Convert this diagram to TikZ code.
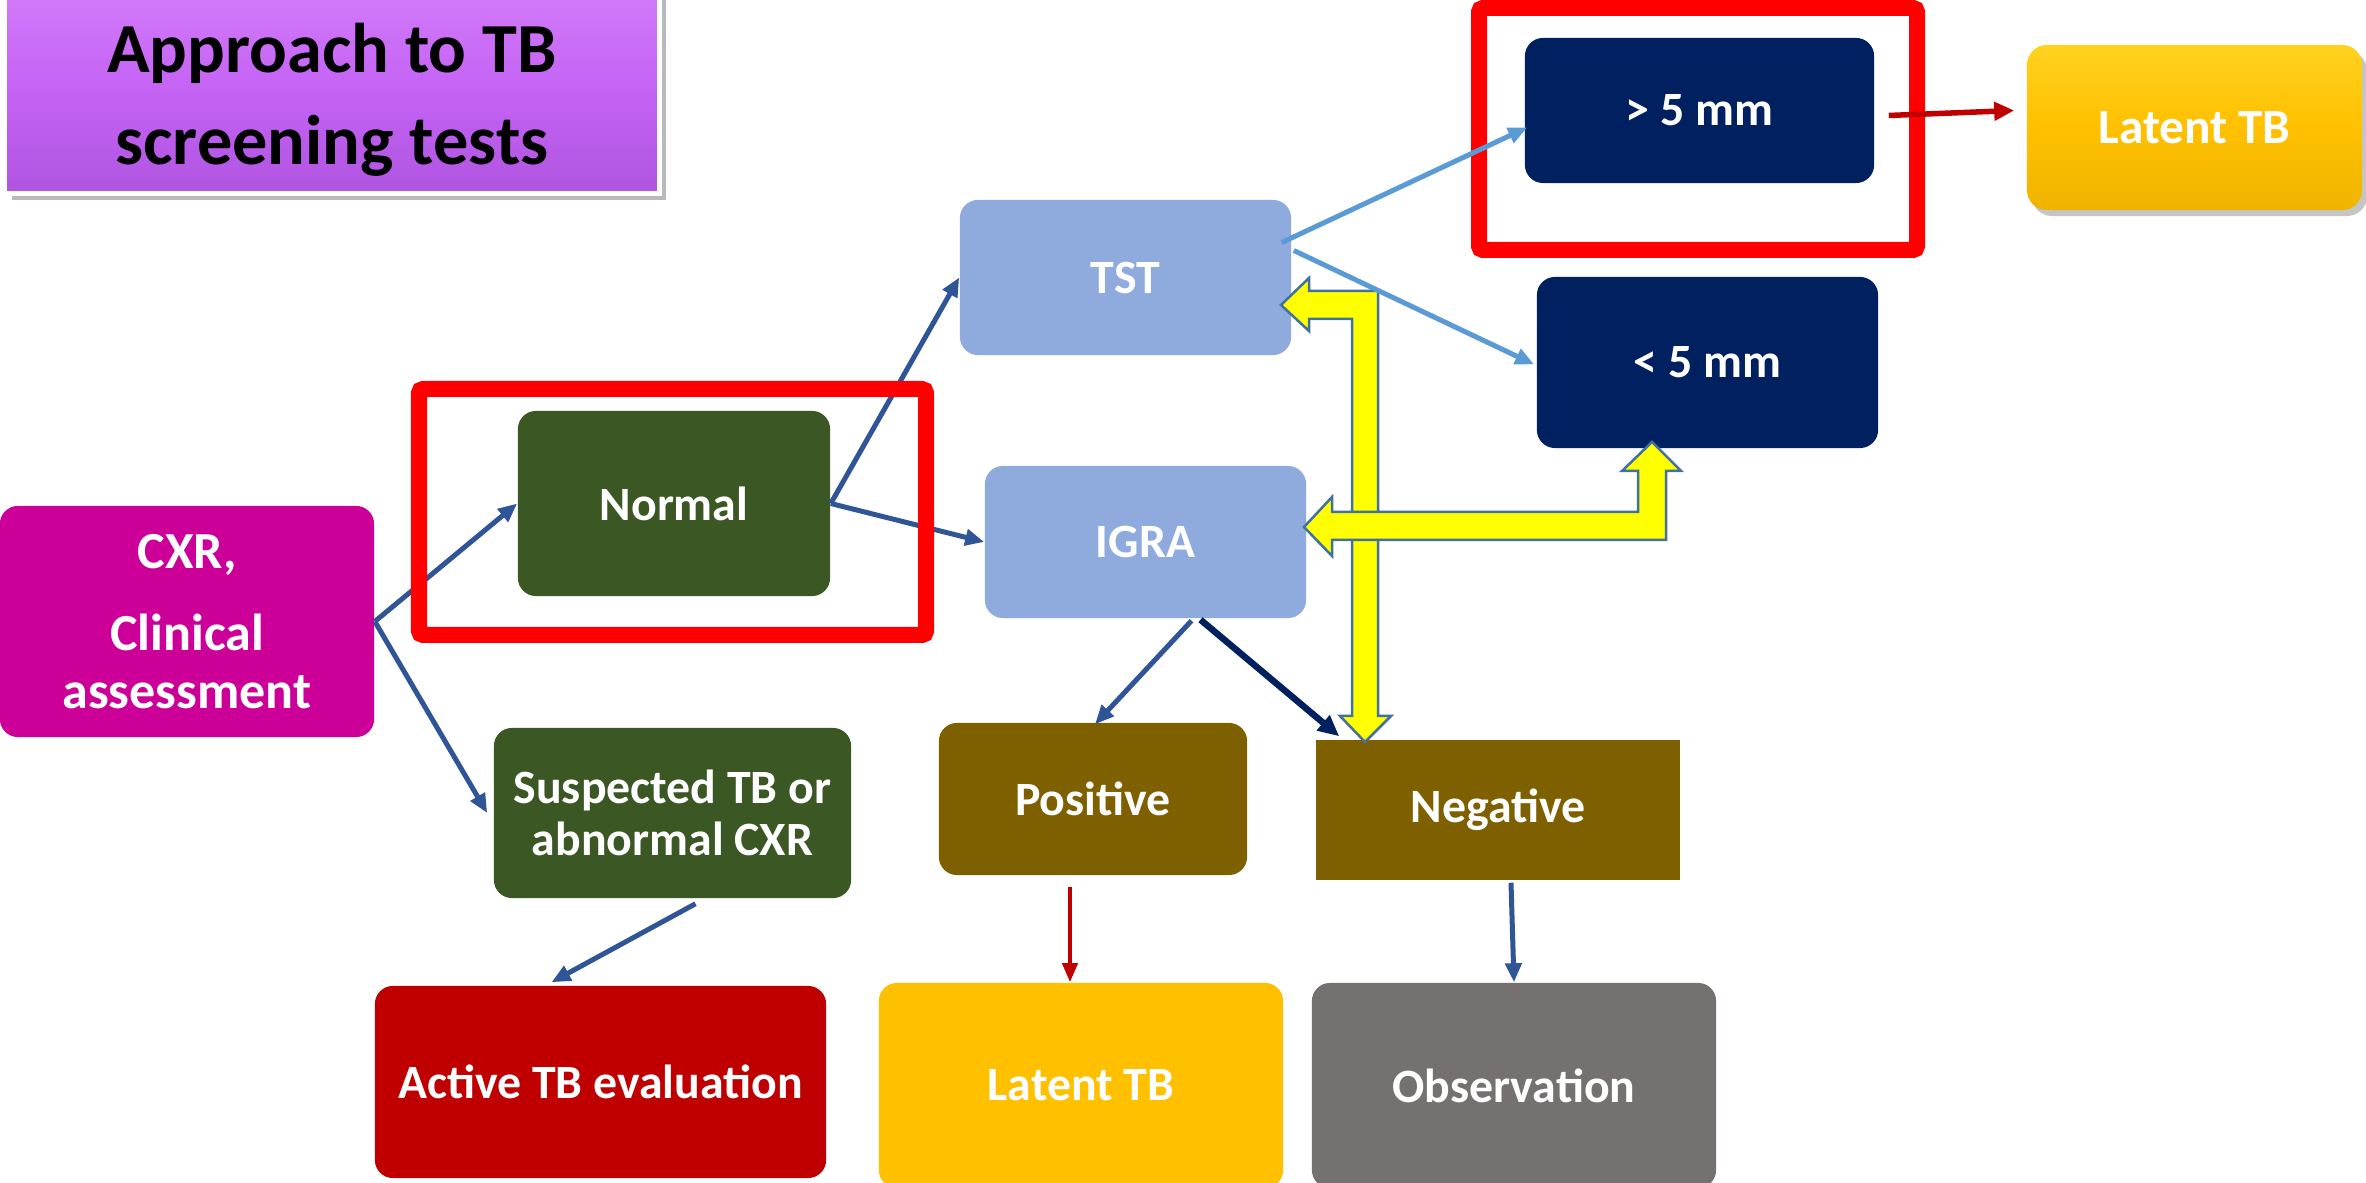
\documentclass[tikz,border=0pt]{standalone}
\usepackage{fontspec}
\setmainfont{Carlito}
\usetikzlibrary{arrows.meta,calc,shadows}
\definecolor{tpurple}{HTML}{C462F5}
\definecolor{tpurpletop}{HTML}{D27AF9}
\definecolor{tpurplebot}{HTML}{B055E0}
\definecolor{cxrmag}{HTML}{CC0099}
\definecolor{dgreen}{HTML}{3B5724}
\definecolor{lblue}{HTML}{8FAADC}
\definecolor{navy}{HTML}{002060}
\definecolor{gold}{HTML}{FFC000}
\definecolor{goldtop}{HTML}{FFD21F}
\definecolor{goldbot}{HTML}{F0B400}
\definecolor{olive}{HTML}{7F6000}
\definecolor{dred}{HTML}{C00000}
\definecolor{grayo}{HTML}{767171}
\definecolor{ablue}{HTML}{2F5597}
\definecolor{sblue}{HTML}{5B9BD5}
\definecolor{yout}{HTML}{41719C}
\definecolor{pureyellow}{HTML}{FFFF00}
\definecolor{framered}{HTML}{FF0000}
\newcommand\tbbody{\fontsize{13.6pt}{14.6pt}\selectfont\bfseries}
\newcommand\tbcxr{\fontsize{14.8pt}{16.5pt}\selectfont\bfseries}
\newcommand\tbtitle{\fontsize{20pt}{26.2pt}\selectfont\bfseries}
\begin{document}
\begin{tikzpicture}[x=0.01cm,y=-0.01cm,
  box/.style={rounded corners=0.18cm, inner sep=0pt, align=center, text=white, font=\tbbody},
  sharpbox/.style={inner sep=0pt, align=center, text=white, font=\tbbody},
  conn/.style={draw=ablue, line width=0.05cm, -{Triangle[length=0.19cm,width=0.16cm]}},
  connnavy/.style={draw=navy, line width=0.065cm, -{Triangle[length=0.21cm,width=0.19cm]}},
  connsky/.style={draw=sblue, line width=0.05cm, -{Triangle[length=0.19cm,width=0.16cm]}},
  connredthin/.style={draw=dred, line width=0.04cm, -{Triangle[length=0.19cm,width=0.15cm]}},
  connredthick/.style={draw=dred, line width=0.055cm, -{Triangle[length=0.2cm,width=0.18cm]}},
  yarrow/.style={fill=pureyellow, draw=yout, line width=0.025cm, line join=miter},
  frame/.style={draw=framered, line width=0.16cm, rounded corners=0.04cm}
]
\useasboundingbox (0,0) rectangle (2366,1183);
\fill[white] (0,0) rectangle (2366,1183);

% title
\node[draw=white, line width=0.05cm, top color=tpurpletop, bottom color=tpurplebot,
      middle color=tpurple, minimum width=6.54cm, minimum height=2.0cm, inner sep=0pt,
      drop shadow={shadow xshift=0.07cm, shadow yshift=-0.07cm, fill=black!45, opacity=0.6}]
  (title) at (332,93) {};
\node[align=center, font=\tbtitle, text=black, inner sep=0pt]
  (titletext) at ($(title.center)+(0,7)$) {Approach to TB\\screening tests};

% frame around >5 mm (under arrows)
\draw[frame] (1479,8) rectangle (1917,250);

% boxes
\node[box, fill=cxrmag, minimum width=3.74cm, minimum height=2.31cm, font=\tbcxr]
  (cxr) at (187,621.5) {CXR,\\[6.8pt]Clinical\\assessment};
\node[box, fill=dgreen, minimum width=3.12cm, minimum height=1.85cm] (normal) at (674,503.5) {Normal};
\node[box, fill=dgreen, minimum width=3.57cm, minimum height=1.70cm] (susp) at (672.5,813) {Suspected TB or\\abnormal CXR};
\node[box, fill=dred, minimum width=4.51cm, minimum height=1.92cm] (active) at (600.5,1082) {Active TB evaluation};
\node[box, fill=lblue, minimum width=3.31cm, minimum height=1.55cm] (tst) at (1125.5,277.5) {TST};
\node[box, fill=lblue, minimum width=3.21cm, minimum height=1.52cm] (igra) at (1145.5,542) {IGRA};
\node[box, fill=olive, minimum width=3.08cm, minimum height=1.52cm] (pos) at (1093,799) {Positive};
\node[sharpbox, fill=olive, minimum width=3.64cm, minimum height=1.40cm] (neg) at (1498,810) {Negative};
\node[box, fill=gold, minimum width=4.04cm, minimum height=2.05cm] (lat) at (1081,1085.5) {Latent TB};
\node[box, fill=grayo, minimum width=4.04cm, minimum height=2.05cm] (obs) at (1514,1085.5) {Observation};
\node[box, fill=navy, minimum width=3.49cm, minimum height=1.45cm] (gt) at (1699.5,110.5) {> 5 mm};
\node[box, fill=navy, minimum width=3.41cm, minimum height=1.71cm] (lt) at (1707.5,362.5) {< 5 mm};
\node[box, rounded corners=0.2cm, top color=goldtop, bottom color=goldbot, middle color=gold,
      minimum width=3.35cm, minimum height=1.65cm, font=\fontsize{14pt}{16pt}\selectfont\bfseries,
      drop shadow={shadow xshift=0.05cm, shadow yshift=-0.06cm, fill=black!45, opacity=0.5}]
  (lat2) at (2194.5,127.5) {Latent TB};

% yellow block arrows
\draw[yarrow] (1281,305) -- (1309,278) -- (1309,291) -- (1378,291) -- (1378,716) -- (1391,716)
  -- (1365,742) -- (1340,716) -- (1352,716) -- (1352,319) -- (1309,319) -- (1309,331) -- cycle;
\draw[yarrow] (1304,527) -- (1332,497) -- (1332,512) -- (1638,512) -- (1638,471) -- (1622,471)
  -- (1652,442) -- (1681,471) -- (1666,471) -- (1666,540) -- (1332,540) -- (1332,556) -- cycle;

% connectors
\draw[conn] (cxr.east) -- (normal.west);
\draw[conn] (cxr.east) -- ($(susp.west)+(-6,0)$);
\draw[conn] ($(susp.south)+(23,5)$) -- ($(active.north)+(-49,-3)$);
\draw[conn] (normal.east) -- (tst.west);
\draw[conn] (normal.east) -- (igra.west);
\draw[conn] ($(igra.south)+(46,2)$) -- ($(pos.north)+(2,2)$);
\draw[connnavy] ($(igra.south)+(55,1)$) -- ($(neg.north west)+(24,-3)$);
\draw[connredthin] ($(pos.south)+(-23,11)$) -- ($(lat.north)+(-11,0)$);
\draw[conn] ($(neg.south)+(13,2)$) -- (obs.north);
\draw[connsky] ($(tst.east)+(-10,-35)$) -- ($(gt.west)+(3,17)$);
\draw[connsky] ($(tst.east)+(2,-27)$) -- ($(lt.west)+(-2,2)$);
\draw[connredthick] ($(gt.east)+(14,5)$) -- ($(lat2.west)+(-12,-17)$);

% frame around Normal (over arrows)
\draw[frame] (419,389) rectangle (926,635);
\end{tikzpicture}
\end{document}
